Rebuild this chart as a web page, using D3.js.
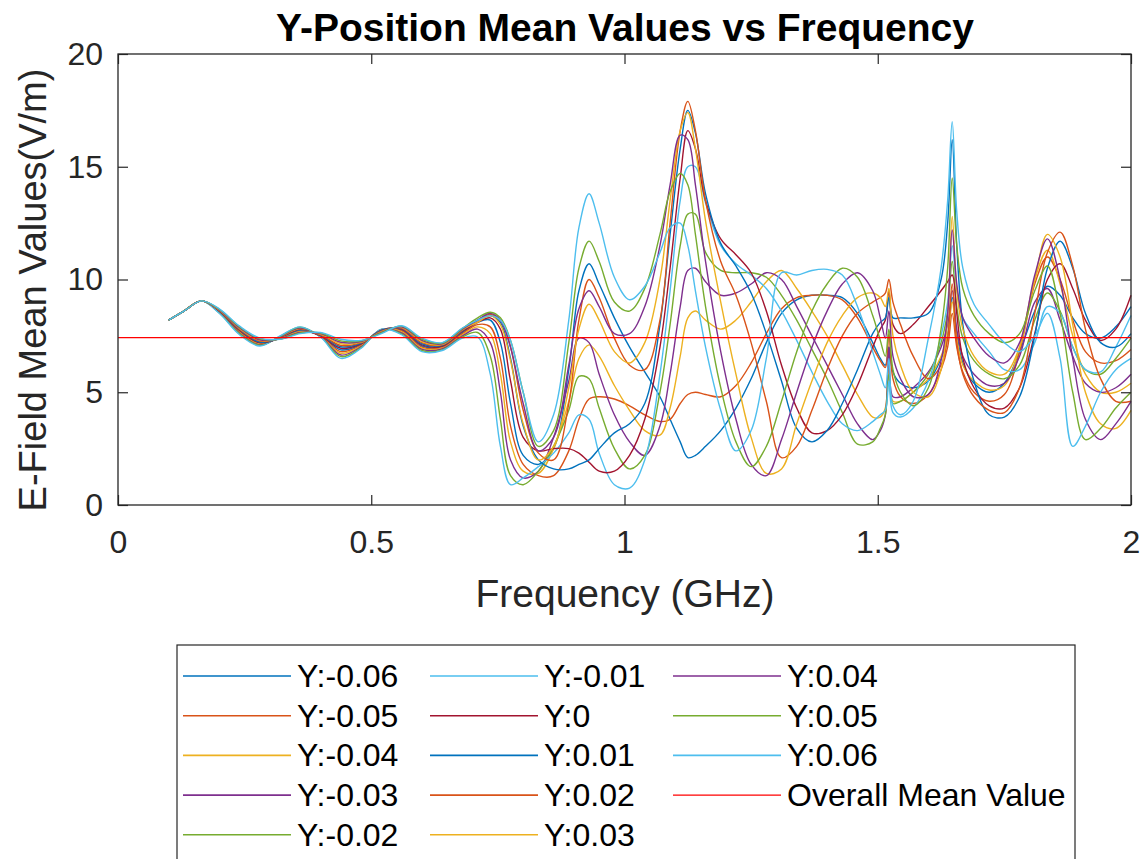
<!DOCTYPE html>
<html>
<head>
<meta charset="utf-8">
<script src="https://cdn.jsdelivr.net/npm/d3@7"></script>
<style>
body { margin: 0; background: #fff; }
svg { display: block; font-family: "Liberation Sans", Arial, Helvetica, sans-serif; }
</style>
</head>
<body>
<svg id="chart" width="1146" height="859"></svg>
<script>
// frequency samples (GHz), shared by all series
const freqGHz = [0.10,0.13,0.165,0.20,0.24,0.28,0.32,0.36,0.40,0.44,0.48,0.52,0.56,0.60,0.64,0.68,0.71,
  0.735,0.755,0.775,0.80,0.83,0.86,0.89,0.91,0.93,0.95,0.98,1.01,1.04,1.07,1.09,1.11,1.125,
  1.14,1.16,1.19,1.22,1.25,1.28,1.31,1.34,1.37,1.40,1.43,1.46,
  1.49,1.505,1.515,1.522,1.530,1.545,1.57,1.60,1.625,1.638,1.647,1.656,1.668,1.69,1.72,1.75,1.78,1.81,1.835,1.86,1.885,1.91,1.94,1.97,2.00];

// mean E-field (V/m) per Y position
const yNeg06 = [8.2,8.6,9.05,8.6,7.72,7.18,7.42,7.78,7.49,6.88,7.12,7.76,7.76,7.05,7.02,7.65,8.1,
  8.2,7.2,4.5,2.2,1.8,2.5,6.0,9.5,10.7,9.8,8.3,7.0,5.9,4.8,3.8,2.8,2.1,
  2.2,2.6,3.3,4.3,5.6,7.2,8.5,9.1,9.3,9.3,9.2,8.5,
  7.2,6.5,6.2,7.0,5.9,5.4,5.2,5.5,6.5,7.5,9.2,7.6,6.3,5.4,5.0,5.4,6.8,8.6,9.7,9.3,8.3,7.6,7.4,7.9,8.8];
const yNeg05 = [8.2,8.6,9.05,8.58,7.7,7.15,7.43,7.8,7.48,6.8,7.08,7.77,7.72,7.0,6.98,7.6,8.0,
  7.9,6.5,3.5,1.8,1.3,1.3,2.4,3.8,4.7,4.8,4.7,4.4,4.0,3.7,3.8,4.5,4.9,
  5.0,4.9,4.8,5.3,6.3,7.6,8.7,9.2,9.3,9.3,9.1,8.3,
  7.0,6.4,6.1,7.6,5.6,4.8,4.5,4.9,6.0,7.0,8.5,7.0,5.9,5.0,4.6,4.9,6.8,9.8,11.0,10.0,8.2,6.8,6.3,6.4,6.9];
const yNeg04 = [8.2,8.6,9.05,8.57,7.65,7.13,7.45,7.83,7.48,6.73,7.05,7.78,7.68,6.95,6.95,7.55,7.9,
  7.6,5.8,2.8,1.5,1.4,2.5,4.6,6.5,7.1,6.6,5.3,4.2,3.3,3.1,4.3,6.6,8.3,
  8.6,8.2,7.8,8.2,9.0,9.9,10.4,9.6,8.6,7.5,6.2,4.9,
  3.9,3.9,4.3,6.3,4.6,4.6,5.0,5.6,6.6,7.5,9.0,7.4,6.2,5.5,5.1,5.3,7.0,10.0,11.3,9.8,7.5,5.8,5.0,5.0,5.4];
const yNeg03 = [8.2,8.6,9.05,8.55,7.62,7.1,7.47,7.85,7.47,6.65,7.02,7.78,7.63,6.9,6.92,7.5,7.8,
  7.2,5.0,2.0,1.2,1.5,3.0,5.5,7.4,7.2,5.8,4.0,2.8,2.2,3.5,5.8,8.8,10.4,
  10.5,9.9,9.3,9.4,9.8,10.3,10.0,8.8,7.5,6.2,4.9,3.6,
  2.9,3.3,4.0,7.0,4.8,4.8,5.2,5.9,7.0,8.0,9.5,7.8,6.6,5.8,5.3,5.4,6.6,9.0,9.6,8.2,6.6,5.4,5.0,5.2,5.8];
const yNeg02 = [8.2,8.6,9.05,8.52,7.6,7.08,7.48,7.88,7.46,6.58,6.98,7.79,7.59,6.85,6.88,7.45,7.65,
  6.6,3.8,1.3,0.9,1.5,2.6,4.2,5.7,5.6,4.3,2.5,1.6,2.2,5.0,8.0,11.5,12.9,
  12.9,11.2,10.4,10.3,10.3,10.1,9.3,8.2,6.9,5.6,4.1,2.7,
  2.8,3.4,4.0,5.8,4.5,4.6,5.0,5.8,7.2,8.6,10.8,8.8,7.4,6.4,5.8,5.6,6.2,8.2,9.4,8.6,7.0,6.0,5.8,6.5,7.4];
const yNeg01 = [8.2,8.6,9.05,8.5,7.55,7.05,7.5,7.9,7.45,6.5,6.95,7.8,7.55,6.8,6.85,7.4,7.45,
  5.8,2.6,0.9,1.2,1.7,2.3,3.2,4.0,3.8,2.3,0.9,0.75,2.0,5.8,9.5,13.5,15.0,
  15.0,13.4,11.5,10.7,10.2,9.6,8.6,7.3,5.9,4.6,3.6,3.3,
  3.7,4.0,4.2,5.5,4.1,3.9,4.3,5.5,7.5,9.0,11.5,9.6,8.3,7.6,6.8,6.0,6.0,7.2,8.8,8.5,7.0,6.0,5.9,7.0,8.4];
const yZero = [8.2,8.6,9.05,8.6,7.75,7.2,7.4,7.75,7.5,6.95,7.15,7.75,7.8,7.1,7.05,7.7,8.1,
  8.3,7.8,5.5,3.0,2.4,2.5,2.5,2.3,1.9,1.5,1.5,2.2,3.8,7.0,10.5,14.5,16.6,
  15.8,13.5,11.8,11.1,10.3,8.6,6.2,4.3,3.2,3.3,4.0,5.3,
  7.0,7.8,8.2,9.5,8.0,7.6,8.0,8.8,9.5,9.9,10.2,8.5,6.5,5.2,4.4,4.3,5.2,7.6,10.0,10.7,9.6,8.2,7.3,7.8,9.3];
const yPos01 = [8.2,8.6,9.05,8.62,7.78,7.23,7.39,7.73,7.53,7.02,7.18,7.73,7.83,7.15,7.08,7.73,8.2,
  8.4,8.1,6.5,3.5,2.0,1.6,1.6,1.8,2.0,2.5,3.2,3.6,4.5,8.0,12.0,15.8,17.5,
  16.5,13.8,11.6,10.6,9.4,7.6,5.5,3.4,2.8,3.3,4.5,6.0,
  7.6,8.1,8.3,9.2,8.3,8.3,8.3,8.5,10.0,12.5,16.2,11.5,8.0,5.5,4.0,3.9,4.8,7.5,10.5,11.7,10.5,8.5,7.2,7.0,7.6];
const yPos02 = [8.2,8.6,9.05,8.63,7.8,7.27,7.38,7.7,7.55,7.08,7.2,7.7,7.85,7.2,7.1,7.75,8.2,
  8.45,8.2,7.0,4.2,2.3,2.0,4.5,8.2,10.0,9.2,7.4,6.2,6.0,8.2,12.5,16.6,17.9,
  16.6,13.5,10.8,9.3,7.2,4.6,2.1,2.6,4.2,6.0,7.5,8.5,
  9.0,9.2,9.4,10.0,9.0,8.0,6.6,5.6,6.2,7.4,9.8,7.2,5.8,4.8,4.2,4.1,5.2,8.5,11.2,12.1,10.6,7.8,5.6,4.6,4.6];
const yPos03 = [8.2,8.6,9.05,8.65,7.83,7.3,7.38,7.68,7.58,7.15,7.22,7.68,7.88,7.25,7.12,7.78,8.1,
  8.4,8.0,6.4,3.6,2.0,2.6,5.2,7.8,8.9,8.2,6.8,6.3,7.2,10.0,13.5,16.6,17.4,
  15.8,12.6,9.0,5.8,3.0,1.4,1.6,3.6,5.5,7.2,8.4,9.2,
  9.4,9.2,8.8,9.6,7.5,6.2,5.0,4.8,6.0,8.4,12.8,9.5,7.8,6.6,5.9,5.8,7.0,10.0,12.0,11.0,8.0,5.0,3.6,3.4,4.2];
const yPos04 = [8.2,8.6,9.05,8.66,7.86,7.33,7.37,7.65,7.6,7.22,7.25,7.65,7.9,7.3,7.15,7.8,8.2,
  8.5,8.2,7.0,4.5,2.4,3.0,6.2,8.7,9.5,8.8,7.6,7.6,8.8,11.5,14.2,16.4,16.2,
  14.2,10.8,6.8,3.8,1.8,1.3,2.9,5.0,7.0,8.6,9.8,10.3,
  9.5,8.3,7.4,8.6,6.6,5.6,4.8,4.9,6.4,8.5,12.2,9.8,8.3,7.4,6.6,6.3,7.2,10.2,11.8,10.0,6.5,3.8,2.9,3.6,4.6];
const yPos05 = [8.2,8.6,9.05,8.68,7.9,7.37,7.36,7.63,7.63,7.28,7.28,7.63,7.93,7.35,7.18,7.83,8.3,
  8.55,8.3,7.3,5.0,2.6,3.3,7.2,10.5,11.7,10.8,9.0,8.6,9.6,12.0,13.9,14.7,14.2,
  12.0,8.8,5.2,2.8,1.7,2.6,4.6,6.8,8.6,9.8,10.5,10.1,
  8.4,7.3,6.6,7.8,6.0,5.0,4.4,5.2,7.8,10.5,14.5,11.5,9.6,8.4,7.6,7.2,7.6,9.5,10.6,8.5,5.0,2.9,3.4,4.3,5.0];
const yPos06 = [8.2,8.6,9.05,8.7,7.93,7.4,7.35,7.6,7.65,7.35,7.3,7.6,7.95,7.4,7.2,7.85,8.2,
  8.4,8.2,7.3,5.0,2.8,4.0,8.2,12.3,13.8,12.5,10.1,9.1,9.7,11.2,12.3,12.5,11.5,
  9.5,7.0,4.2,2.4,3.3,6.5,10.3,10.2,10.4,10.45,10.2,8.8,
  6.8,5.8,5.2,6.5,4.4,4.0,4.6,7.4,10.5,13.5,17.0,13.0,10.5,8.9,8.0,7.2,6.8,7.5,8.5,6.5,2.6,3.5,5.0,6.0,6.5];

const seriesNames = ["Y:-0.06","Y:-0.05","Y:-0.04","Y:-0.03","Y:-0.02","Y:-0.01","Y:0",
  "Y:0.01","Y:0.02","Y:0.03","Y:0.04","Y:0.05","Y:0.06"];
const seriesValues = [yNeg06,yNeg05,yNeg04,yNeg03,yNeg02,yNeg01,yZero,yPos01,yPos02,yPos03,yPos04,yPos05,yPos06];
const lineColors = ["#0072BD","#D95319","#EDB120","#7E2F8E","#77AC30","#4DBEEE","#A2142F"];
const overallMean = 7.42;
const xTicks = [0, 0.5, 1, 1.5, 2];
const yTicks = [0, 5, 10, 15, 20];

const svg = d3.select("#chart");
const axisColor = "#262626";

const x = d3.scaleLinear().domain([0, 2]).range([118, 1131]);
const y = d3.scaleLinear().domain([0, 20]).range([505, 54]);

const plot = svg.append("g").attr("class", "plot");

const line = d3.line()
    .x((d, i) => x(freqGHz[i]))
    .y(d => y(d))
    .curve(d3.curveCatmullRom.alpha(0.5));

plot.selectAll("path.series")
    .data(seriesValues)
    .enter().append("path")
    .attr("class", "series")
    .attr("d", line)
    .attr("fill", "none")
    .attr("stroke", (d, i) => lineColors[i % lineColors.length])
    .attr("stroke-width", 1.4)

plot.append("line")
    .attr("x1", x(0)).attr("x2", x(2))
    .attr("y1", y(overallMean)).attr("y2", y(overallMean))
    .attr("stroke", "#FF0000")
    .attr("stroke-width", 1.2)

// axes: MATLAB style box, ticks pointing inwards
function styleAxis(g) {
    g.select(".domain").remove();
    g.selectAll(".tick line").attr("stroke", axisColor).attr("stroke-width", 1.2);
    g.selectAll(".tick text").attr("fill", axisColor).style("font-size", "32px")
        .style("font-family", "'Liberation Sans', Arial, sans-serif");
}

svg.append("g")
    .attr("transform", "translate(0,505)")
    .call(d3.axisBottom(x).tickValues(xTicks).tickSize(-10).tickPadding(25).tickFormat(d3.format("~g")))
    .call(styleAxis);
svg.append("g")
    .attr("transform", "translate(0,54)")
    .call(d3.axisTop(x).tickValues(xTicks).tickSize(-10).tickFormat(""))
    .call(styleAxis);
svg.append("g")
    .attr("transform", "translate(118,0)")
    .call(d3.axisLeft(y).tickValues(yTicks).tickSize(-10).tickPadding(15).tickFormat(d3.format("~g")))
    .call(styleAxis);
svg.append("g")
    .attr("transform", "translate(1131,0)")
    .call(d3.axisRight(y).tickValues(yTicks).tickSize(-10).tickFormat(""))
    .call(styleAxis);

svg.append("rect")
    .attr("x", 118).attr("y", 54)
    .attr("width", 1131 - 118).attr("height", 505 - 54)
    .attr("fill", "none")
    .attr("stroke", axisColor)
    .attr("stroke-width", 1.3)

// labels
svg.append("text")
    .attr("x", 625).attr("y", 41)
    .attr("text-anchor", "middle")
    .style("font-size", "39px").style("font-weight", "bold")
    .attr("fill", "#000")
    .text("Y-Position Mean Values vs Frequency")

svg.append("text")
    .attr("x", 625).attr("y", 607)
    .attr("text-anchor", "middle")
    .style("font-size", "39px")
    .attr("fill", axisColor)
    .text("Frequency (GHz)")

svg.append("text")
    .attr("transform", "translate(46,290) rotate(-90)")
    .attr("text-anchor", "middle")
    .style("font-size", "38px")
    .attr("fill", axisColor)
    .text("E-Field Mean Values(V/m)")

// legend, 3 columns filled column-first like MATLAB
const legendItems = seriesNames.map((n, i) => ({name: n, color: lineColors[i % lineColors.length]}))
legendItems.push({name: "Overall Mean Value", color: "#FF0000"})

const legend = svg.append("g").attr("class", "legend")
legend.append("rect")
    .attr("x", 177).attr("y", 645)
    .attr("width", 1075 - 177).attr("height", 240)
    .attr("fill", "#fff")
    .attr("stroke", axisColor)
    .attr("stroke-width", 1.2)

const colX = [183, 430, 673];
const rowsPerCol = 5;
legendItems.forEach(function(d, i) {
    let c = Math.floor(i / rowsPerCol), r = i % rowsPerCol;
    let cy = 676 + r * 39.7;
    let g = legend.append("g");
    g.append("line")
        .attr("x1", colX[c]).attr("x2", colX[c] + 108)
        .attr("y1", cy).attr("y2", cy)
        .attr("stroke", d.color)
        .attr("stroke-width", d.name == "Overall Mean Value" ? 1.3 : 1.6)
    g.append("text")
        .attr("x", colX[c] + 114).attr("y", cy + 11)
        .style("font-size", "32px")
        .attr("fill", "#000")
        .text(d.name)
})
</script>
</body>
</html>
